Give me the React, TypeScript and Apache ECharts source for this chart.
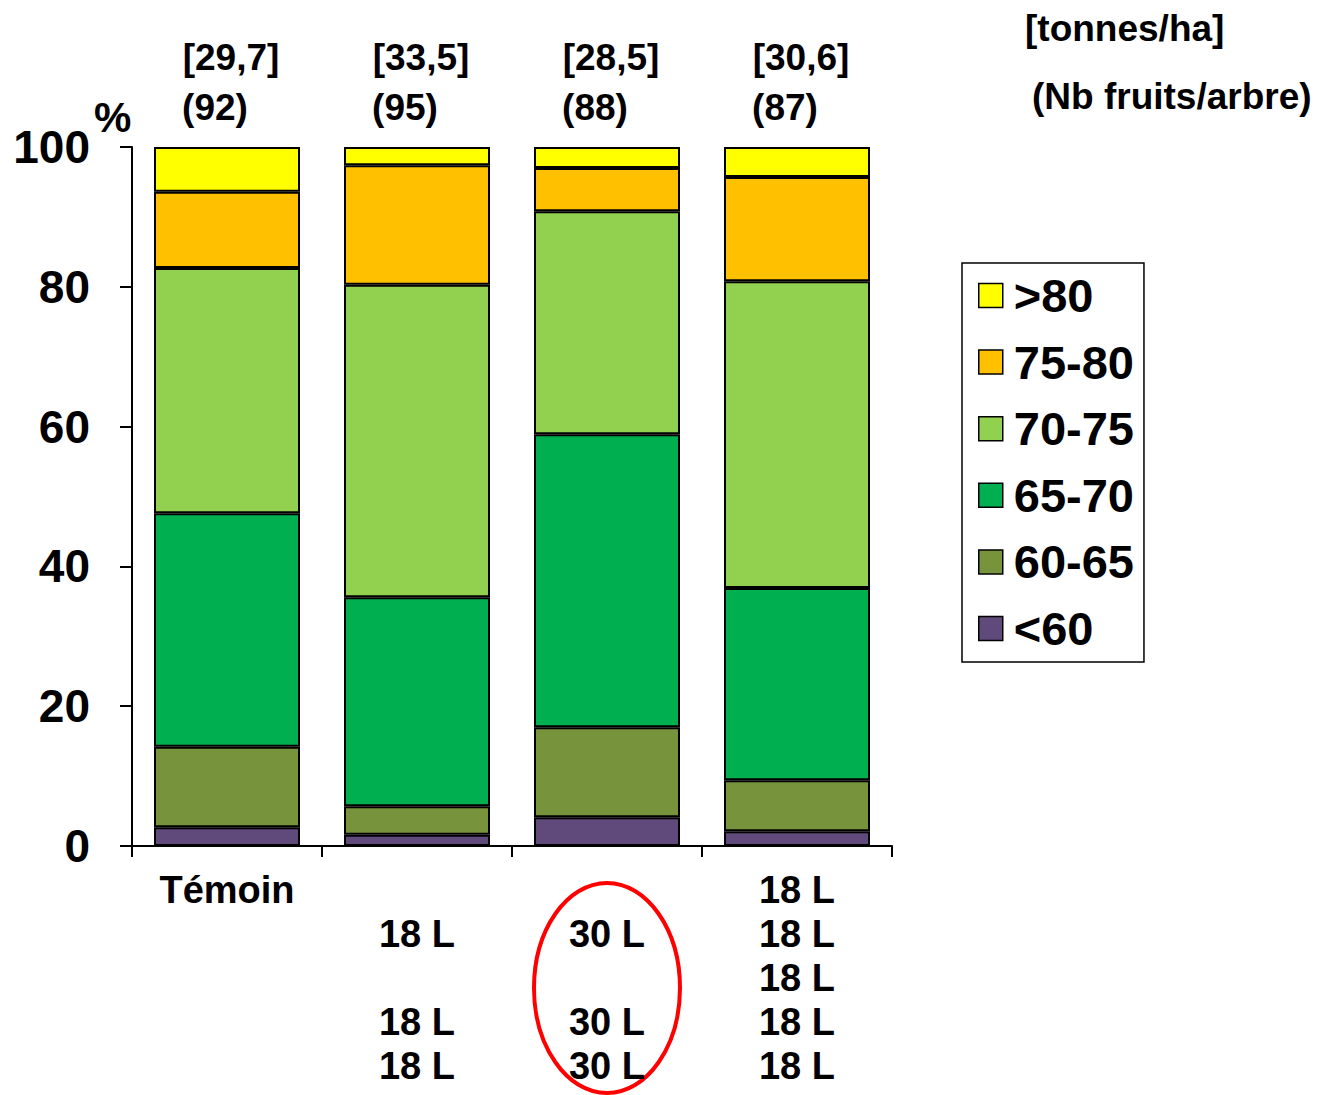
import React, { useEffect, useRef } from "react";
import * as echarts from "echarts";

const categories = ["Témoin", "\n18 L\n\n18 L\n18 L", "\n30 L\n\n30 L\n30 L", "18 L\n18 L\n18 L\n18 L\n18 L"];
const seriesNames = ["<60", "60-65", "65-70", "70-75", "75-80", ">80"];
const lt60 = [2.7, 1.6, 4.1, 2.1];
const s60_65 = [11.5, 4.1, 12.9, 7.3];
const s65_70 = [33.4, 29.9, 41.9, 27.5];
const s70_75 = [35.1, 44.7, 31.9, 43.9];
const s75_80 = [10.9, 17.1, 6.2, 14.9];
const gt80 = [6.4, 2.6, 3.0, 4.3];
const yields = ["[29,7]", "[33,5]", "[28,5]", "[30,6]"];
const fruits = ["(92)", "(95)", "(88)", "(87)"];
const colors = ["#604A7B", "#77933C", "#00B050", "#92D050", "#FFC000", "#FFFF00"];
const yTicks = [0, 20, 40, 60, 80, 100];
const yUnit = "%";

const FONT = "'Liberation Sans', Arial, sans-serif";

export default function App() {
  const ref = useRef<HTMLDivElement>(null);
  useEffect(() => {
    if (!ref.current) return;
    const chart = echarts.init(ref.current, null, { renderer: "svg" });
    const values = [lt60, s60_65, s65_70, s70_75, s75_80, gt80];
    const series = seriesNames.map((name, i) => ({
      name,
      type: "bar",
      stack: "total",
      barWidth: 146,
      data: values[i],
      itemStyle: { color: colors[i], borderColor: "#000", borderWidth: 2 },
      label:
        i === seriesNames.length - 1
          ? {
              show: true,
              position: "top",
              distance: 15,
              formatter: (p: any) => `{a|${yields[p.dataIndex]}}\n{b|${fruits[p.dataIndex]}}`,
              rich: {
                a: { fontSize: 37, fontWeight: "bold", fontFamily: FONT, color: "#000", lineHeight: 50, padding: [0, 0, 0, 8] },
                b: { fontSize: 37, fontWeight: "bold", fontFamily: FONT, color: "#000", lineHeight: 50, padding: [0, 24, 0, 0] },
              },
            }
          : { show: false },
    }));
    chart.setOption({
      animation: false,
      textStyle: { fontFamily: FONT, fontWeight: "bold", color: "#000" },
      grid: { left: 132, right: 432, top: 147, bottom: 249, containLabel: false },
      xAxis: {
        type: "category",
        data: categories,
        axisLine: { lineStyle: { color: "#000", width: 2 } },
        axisTick: { show: true, length: 11, alignWithLabel: false, lineStyle: { color: "#000", width: 2 } },
        axisLabel: {
          margin: 22,
          fontSize: 38,
          fontWeight: "bold",
          fontFamily: FONT,
          color: "#000",
          lineHeight: 44,
          verticalAlign: "top",
          interval: 0,
        },
      },
      yAxis: {
        type: "value",
        min: yTicks[0],
        max: yTicks[yTicks.length - 1],
        interval: 20,
        axisLine: { show: true, lineStyle: { color: "#000", width: 2 } },
        axisTick: { show: true, length: 12, lineStyle: { color: "#000", width: 2 } },
        splitLine: { show: false },
        axisLabel: { margin: 42, fontSize: 46, fontWeight: "bold", fontFamily: FONT, color: "#000" },
      },
      legend: {
        orient: "vertical",
        left: 962,
        top: 263,
        data: [...seriesNames].reverse(),
        backgroundColor: "#fff",
        borderColor: "#000",
        borderWidth: 1.5,
        borderRadius: 0,
        padding: [9, 10, 10, 16],
        itemWidth: 24,
        itemHeight: 24,
        itemGap: 19.6,
        icon: "rect",
        itemStyle: { borderColor: "#000", borderWidth: 1.5 },
        textStyle: { fontSize: 47, fontWeight: "bold", fontFamily: FONT, color: "#000", lineHeight: 47, padding: [0, 0, 0, 6] },
      },
      graphic: [
        { type: "text", left: 94, top: 96, style: { text: yUnit, font: `bold 42px ${FONT}`, fill: "#000" } },
        { type: "text", left: 1025, top: 10, style: { text: "[tonnes/ha]", font: `bold 37px ${FONT}`, fill: "#000" } },
        { type: "text", left: 1032, top: 78, style: { text: "(Nb fruits/arbre)", font: `bold 37px ${FONT}`, fill: "#000" } },
        { type: "ellipse", shape: { cx: 607, cy: 988, rx: 73, ry: 105 }, style: { fill: "none", stroke: "#FF0000", lineWidth: 4 } },
      ],
      series,
    });
    return () => chart.dispose();
  }, []);
  return <div ref={ref} style={{ position: "absolute", left: 0, top: 0, width: 1324, height: 1095 }} />;
}
